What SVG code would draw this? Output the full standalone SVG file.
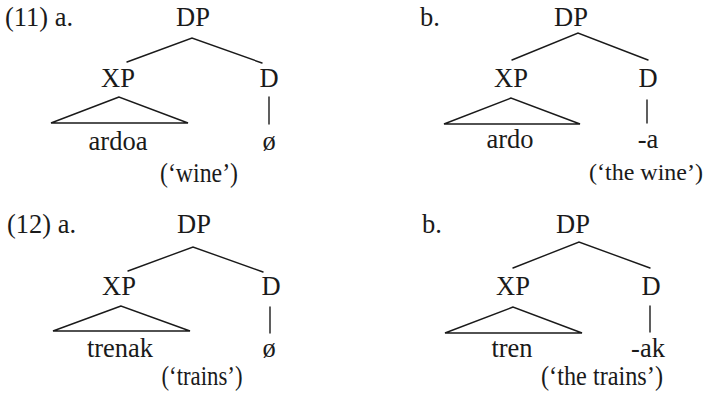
<svg xmlns="http://www.w3.org/2000/svg" width="709" height="396" viewBox="0 0 709 396">
<style>
text{font-family:"Liberation Serif","Times New Roman",serif;font-size:26.5px;fill:#1a1a1a}
.m{text-anchor:middle}
.e{stroke:#1a1a1a;stroke-width:1.4;fill:none;stroke-linecap:round}
</style>
<rect width="709" height="396" fill="#fff"/>
<text x="5" y="26" textLength="68" lengthAdjust="spacingAndGlyphs">(11) a.</text>
<text x="420" y="26">b.</text>
<text x="7" y="233" textLength="69" lengthAdjust="spacingAndGlyphs">(12) a.</text>
<text x="422" y="233">b.</text>
<g id="connectors">
<polyline class="e" points="127,62 192,38 262,63"/>
<polygon class="e" points="119,97 51,123 188,123"/>
<line class="e" x1="269" y1="97" x2="269" y2="124"/>
<polyline class="e" points="512,60 578,33 648,60"/>
<polygon class="e" points="511,98 444,124 580,124"/>
<line class="e" x1="647" y1="100" x2="647" y2="123"/>
<polyline class="e" points="128,271 193,247 263,272"/>
<polygon class="e" points="121,306 53,331 190,331"/>
<line class="e" x1="270" y1="307" x2="270" y2="333"/>
<polyline class="e" points="513,268 579,242 650,268"/>
<polygon class="e" points="513,307 445,333 582,333"/>
<line class="e" x1="650" y1="306" x2="650" y2="332"/>
</g>
<g id="t11a-DP"><text class="m" x="193" y="26">DP</text></g>
<g id="t11a-XP"><text class="m" x="118" y="87">XP</text></g>
<g id="t11a-D"><text class="m" x="269" y="87">D</text></g>
<g id="t11a-ardoa"><text class="m" x="118" y="150">ardoa</text></g>
<g id="t11a-null"><text class="m" x="269" y="150">ø</text></g>
<g id="t11a-gloss"><text class="m" x="199" y="182" textLength="78" lengthAdjust="spacingAndGlyphs">(‘wine’)</text></g>
<g id="t11b-DP"><text class="m" x="571" y="26">DP</text></g>
<g id="t11b-XP"><text class="m" x="511" y="87">XP</text></g>
<g id="t11b-D"><text class="m" x="648" y="87">D</text></g>
<g id="t11b-ardo"><text class="m" x="510" y="148">ardo</text></g>
<g id="t11b-a"><text class="m" x="648" y="148">-a</text></g>
<g id="t11b-gloss"><text class="m" x="646" y="180" style="font-size:24px">(‘the wine’)</text></g>
<g id="t12a-DP"><text class="m" x="194" y="233">DP</text></g>
<g id="t12a-XP"><text class="m" x="119" y="295">XP</text></g>
<g id="t12a-D"><text class="m" x="271" y="295">D</text></g>
<g id="t12a-trenak"><text class="m" x="120" y="357">trenak</text></g>
<g id="t12a-null"><text class="m" x="269" y="357">ø</text></g>
<g id="t12a-gloss"><text class="m" x="202" y="385" textLength="81" lengthAdjust="spacingAndGlyphs">(‘trains’)</text></g>
<g id="t12b-DP"><text class="m" x="573" y="233">DP</text></g>
<g id="t12b-XP"><text class="m" x="513" y="295">XP</text></g>
<g id="t12b-D"><text class="m" x="651" y="295">D</text></g>
<g id="t12b-tren"><text class="m" x="512" y="357">tren</text></g>
<g id="t12b-ak"><text class="m" x="648" y="357">-ak</text></g>
<g id="t12b-gloss"><text class="m" x="602" y="385" textLength="122" lengthAdjust="spacingAndGlyphs">(‘the trains’)</text></g>
</svg>
